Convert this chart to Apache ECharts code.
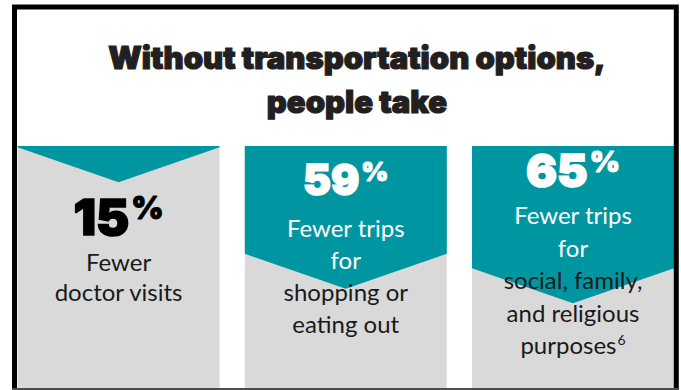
<!DOCTYPE html>
<html><head><meta charset="utf-8">
<script src="https://cdn.jsdelivr.net/npm/echarts@6/dist/echarts.min.js"></script>
<style>html,body{margin:0;padding:0;background:#fff}#c{width:681px;height:390px}</style>
</head><body><div id="c"></div>
<script>
// ---- data ----
const titleText = 'Without transportation options,\npeople take';
const categories = ['Doctor visits', 'Shopping or eating out', 'Social, family, and religious purposes'];
const percentValues = [15, 59, 65];
const descriptionLines = [
  ['Fewer', 'doctor visits'],
  ['Fewer trips', 'for', 'shopping or', 'eating out'],
  ['Fewer trips', 'for', 'social, family,', 'and religious', 'purposes']
];
const footnotes = ['', '', '6'];

// ---- style ----
const TEAL = '#0096a1';
const GRAY = '#d9d9d9';
const HEAVY = 'Inter, Roboto, sans-serif';
const BODY = 'Lato, "Open Sans", sans-serif';
const pctFontSize = [50, 42, 46];
const pctBaseline = [89, 49, 41];
const firstBaseline = [124, 90, 77];
const lineGap = [30, 32, 32.5];
const whiteLines = [0, 2, 2];
const BODY_FS = 24;
const BOX_W = 202;
const CHEVRON = 35;

const chart = echarts.init(document.getElementById('c'), null, {renderer: 'svg'});

function renderItem(params, api) {
  const i = api.value(0);
  const pct = api.value(1);
  const top = api.coord([i, 0]);
  const bot = api.coord([i, 100]);
  const tip = api.coord([i, pct]);
  const cx = top[0], t = top[1], b = bot[1], ty = tip[1];
  const l = cx - BOX_W / 2, r = cx + BOX_W / 2;
  const side = Math.max(t, ty - CHEVRON);
  const idx = params.dataIndex;
  const children = [
    {type: 'rect', shape: {x: l, y: t, width: BOX_W, height: b - t}, style: {fill: GRAY}},
    {type: 'polygon', shape: {points: [[l, t], [r, t], [r, side], [cx, ty], [l, side]]}, style: {fill: TEAL}}
  ];
  const pctColor = idx === 0 ? '#000' : '#fff';
  const pfs = pctFontSize[idx];
  const pfs2 = Math.round(pfs * 0.62);
  children.push({
    type: 'text',
    style: {
      text: '{d|' + pct + '}{p|%}',
      x: cx, y: t + pctBaseline[idx] - 0.36 * pfs,
      align: 'center', verticalAlign: 'middle',
      rich: {
        d: {fontSize: pfs, fontFamily: HEAVY, fontWeight: 900, fill: pctColor, lineHeight: pfs, verticalAlign: 'bottom',
            stroke: pctColor, lineWidth: 1.6},
        p: {fontSize: pfs2, fontFamily: HEAVY, fontWeight: 900, fill: pctColor, lineHeight: pfs2, verticalAlign: 'top',
            stroke: pctColor, lineWidth: 1, padding: [0, 0, 0, 2]}
      }
    }
  });
  descriptionLines[idx].forEach(function (line, k) {
    const isLast = k === descriptionLines[idx].length - 1;
    const fn = isLast ? footnotes[idx] : '';
    const col = k < whiteLines[idx] ? '#fff' : '#1a1a1a';
    children.push({
      type: 'text',
      style: {
        text: fn ? '{t|' + line + '}{s|' + fn + '}' : '{t|' + line + '}',
        x: cx, y: t + firstBaseline[idx] + k * lineGap[idx] - 0.34 * BODY_FS,
        align: 'center', verticalAlign: 'middle',
        rich: {
          t: {fontSize: BODY_FS, fontFamily: BODY, fill: col, lineHeight: BODY_FS, verticalAlign: 'bottom'},
          s: {fontSize: 14, fontFamily: BODY, fill: col, lineHeight: 14, verticalAlign: 'top', padding: [0, 0, 8, 1]}
        }
      }
    });
  });
  return {type: 'group', children: children};
}

chart.setOption({
  animation: false,
  backgroundColor: '#fff',
  title: {
    text: titleText,
    left: 357, top: 35, textAlign: 'center', padding: 0,
    textStyle: {fontSize: 31, fontWeight: 900, fontFamily: HEAVY, color: '#231f20', lineHeight: 44,
                textBorderColor: '#231f20', textBorderWidth: 1.2}
  },
  grid: {left: 17, right: 8, top: 146, bottom: 2},
  xAxis: {type: 'value', min: -0.447, max: 2.44, show: false},
  yAxis: {type: 'value', min: 0, max: 100, inverse: true, show: false},
  series: [{
    type: 'custom',
    name: 'Fewer trips',
    renderItem: renderItem,
    data: percentValues.map(function (v, i) { return [i, v, categories[i]]; }),
    encode: {x: 0, y: 1},
    clip: false
  }],
  graphic: [
    {type: 'rect', z: 100, shape: {x: 14.5, y: 7, width: 661.8, height: 400}, style: {fill: 'none', stroke: '#000', lineWidth: 5}},
    {type: 'line', z: 100, shape: {x1: 12, y1: 389, x2: 679, y2: 389}, style: {stroke: '#4d4d4d', lineWidth: 2}}
  ]
});
</script>
</body></html>
